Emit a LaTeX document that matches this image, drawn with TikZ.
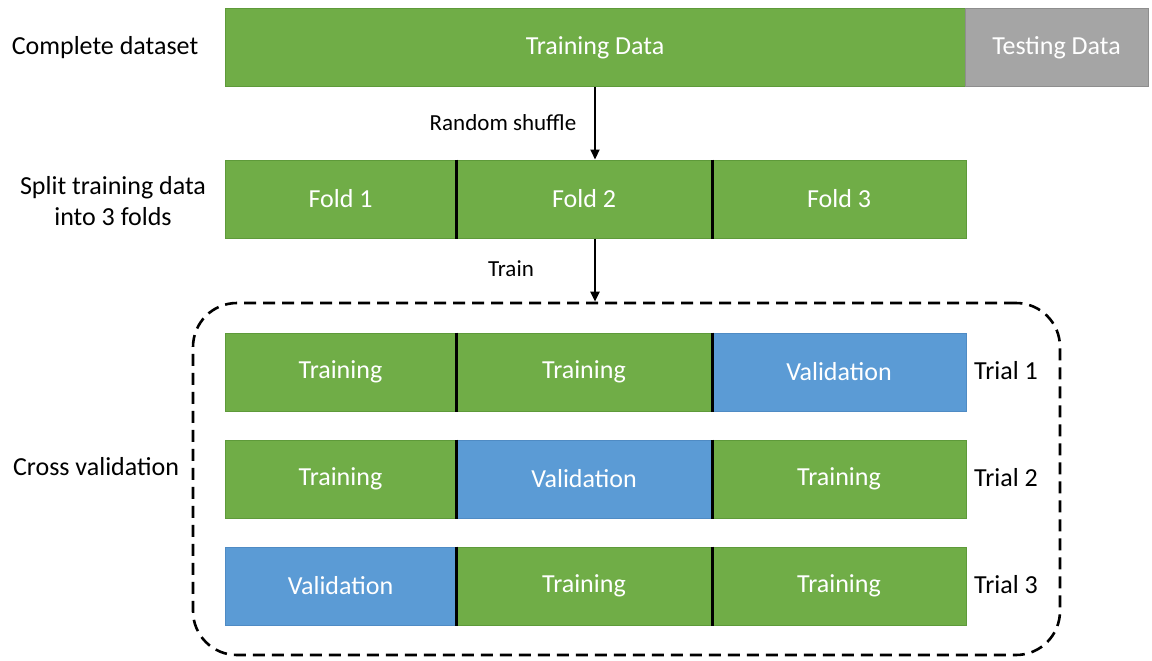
\documentclass[tikz,border=0pt]{standalone}
\usepackage{fontspec}
\setmainfont{Carlito}
\usetikzlibrary{arrows.meta}
\definecolor{cgreen}{HTML}{70AD47}
\definecolor{cgreenedge}{HTML}{5E9A3A}
\definecolor{cblue}{HTML}{5B9BD5}
\definecolor{cblueedge}{HTML}{4F8BC4}
\definecolor{cgray}{HTML}{A5A5A5}
\definecolor{cgrayedge}{HTML}{8E8E8E}
\tikzset{
  cell/.style={rectangle, inner sep=0pt, minimum height=78pt, line width=1pt,
    text=white, font=\fontsize{26}{30}\selectfont},
  gcell/.style={cell, fill=cgreen, draw=cgreenedge},
  bcell/.style={cell, fill=cblue, draw=cblueedge},
  tcell/.style={cell, fill=cgray, draw=cgrayedge},
  lbl/.style={inner sep=0pt, align=center, text=black, font=\fontsize{26}{31}\selectfont},
  smalllbl/.style={inner sep=0pt, text=black, font=\fontsize{23}{27}\selectfont},
  divider/.style={line width=2.6pt, black},
  arr/.style={line width=2.2pt, black, -{Triangle[length=10pt,width=9pt]}},
  cvbox/.style={rectangle, draw=black, line width=2.6pt, dash pattern=on 12pt off 7pt,
    rounded corners=44pt, inner sep=0pt, minimum width=867pt, minimum height=352pt}
}
\begin{document}
\begin{tikzpicture}[x=1pt,y=-1pt]
\useasboundingbox (0,0) rectangle (1152,661);

% complete dataset
\node[gcell, minimum width=740pt] (train) at (595,48) {Training Data};
\node[tcell, minimum width=183pt] (test) at (1056.5,48) {Testing Data};
\node[lbl] (lcomplete) at (105,48) {Complete dataset};

% three folds
\node[gcell, minimum width=231pt] (f1) at (340.5,199) {Fold 1};
\node[gcell, minimum width=256pt] (f2) at (584,199) {Fold 2};
\node[gcell, minimum width=254pt] (f3) at (839,199) {Fold 3};
\draw[divider] (f1.north east) -- (f1.south east);
\draw[divider] (f2.north east) -- (f2.south east);
\node[lbl] (lsplit) at (113,201) {Split training data\\into 3 folds};

% cross-validation frame
\node[cvbox] (cv) at (626.5,479) {};
\node[lbl] (lcv) at (96,467) {Cross validation};

% arrows
\draw[arr] (train.south) -- (train.south |- f2.north);
\node[smalllbl] (lshuffle) at (503,123) {Random shuffle};
\draw[arr] (train.south |- f2.south) -- (train.south |- cv.north);
\node[smalllbl] (ltrain) at (511,269) {Train};

% trial 1
\node[gcell, minimum width=231pt] (a1) at (340.5,372) {Training};
\node[gcell, minimum width=256pt] (a2) at (584,372) {Training};
\node[bcell, minimum width=254pt] (a3) at (839,372) {Validation};
\draw[divider] (a1.north east) -- (a1.south east);
\draw[divider] (a2.north east) -- (a2.south east);
\node[lbl] (t1) at (1006,371) {Trial 1};

% trial 2
\node[gcell, minimum width=231pt] (b1) at (340.5,479) {Training};
\node[bcell, minimum width=256pt] (b2) at (584,479) {Validation};
\node[gcell, minimum width=254pt] (b3) at (839,479) {Training};
\draw[divider] (b1.north east) -- (b1.south east);
\draw[divider] (b2.north east) -- (b2.south east);
\node[lbl] (t2) at (1006,478) {Trial 2};

% trial 3
\node[bcell, minimum width=231pt] (c1) at (340.5,586) {Validation};
\node[gcell, minimum width=256pt] (c2) at (584,586) {Training};
\node[gcell, minimum width=254pt] (c3) at (839,586) {Training};
\draw[divider] (c1.north east) -- (c1.south east);
\draw[divider] (c2.north east) -- (c2.south east);
\node[lbl] (t3) at (1006,585) {Trial 3};
\end{tikzpicture}
\end{document}
